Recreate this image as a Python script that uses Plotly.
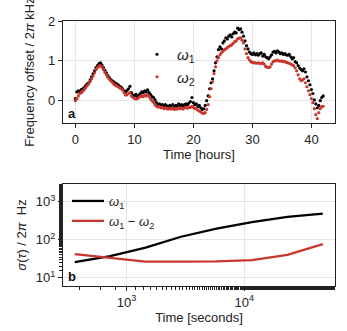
import plotly.graph_objects as go

# ---- Panel a: frequency offset vs time (hours) ----
hours = [i * 0.25 for i in range(169)]

omega1_khz = [
    0.05, 0.22, 0.25, 0.22, 0.28, 0.30, 0.33, 0.38, 0.42, 0.45, 0.52, 0.60, 0.68, 0.75, 0.83, 0.88,
    0.93, 0.95, 0.90, 0.83, 0.76, 0.70, 0.63, 0.58, 0.53, 0.50, 0.47, 0.44, 0.42, 0.40, 0.36, 0.34,
    0.30, 0.25, 0.22, 0.26, 0.30, 0.36, 0.20, 0.14, 0.12, 0.16, 0.10, 0.14, 0.18, 0.22, 0.20, 0.25,
    0.22, 0.27, 0.20, 0.15, 0.10, 0.08, 0.02, -0.05, -0.10, -0.08, -0.12, -0.10, -0.14, -0.10, -0.13, -0.15,
    -0.12, -0.14, -0.10, -0.16, -0.12, -0.14, -0.08, -0.12, -0.10, -0.14, -0.10, -0.08, -0.10, -0.06, -0.02, 0.08,
    -0.05, -0.10, -0.08, -0.15, -0.12, -0.18, -0.22, -0.20, -0.12, 0.00, 0.12, 0.30, 0.45, 0.55, 0.75, 0.95,
    1.10, 1.28, 1.35, 1.30, 1.45, 1.50, 1.58, 1.55, 1.62, 1.65, 1.60, 1.68, 1.72, 1.70, 1.82, 1.78,
    1.80, 1.72, 1.62, 1.50, 1.38, 1.30, 1.22, 1.18, 1.16, 1.20, 1.15, 1.18, 1.14, 1.18, 1.20, 1.12,
    1.16, 1.10, 1.08, 1.05, 1.10, 1.15, 1.22, 1.24, 1.20, 1.25, 1.22, 1.18, 1.20, 1.16, 1.18, 1.15,
    1.14, 1.16, 1.10, 1.05, 1.08, 0.98, 0.95, 0.88, 0.82, 0.78, 0.75, 0.80, 0.72, 0.60, 0.50, 0.40,
    0.28, 0.18, 0.02, -0.08, -0.18, -0.12, 0.00, 0.08, 0.12,
]

omega2_khz = [
    0.00, 0.05, 0.12, 0.18, 0.20, 0.24, 0.28, 0.33, 0.38, 0.42, 0.48, 0.55, 0.62, 0.70, 0.78, 0.83,
    0.87, 0.88, 0.84, 0.78, 0.71, 0.65, 0.59, 0.54, 0.50, 0.46, 0.42, 0.39, 0.37, 0.35, 0.32, 0.30,
    0.27, 0.20, 0.14, 0.15, 0.18, 0.20, 0.12, 0.08, 0.06, 0.04, 0.05, 0.08, 0.10, 0.12, 0.10, 0.14,
    0.12, 0.15, 0.10, 0.04, 0.00, -0.04, -0.10, -0.14, -0.16, -0.15, -0.18, -0.17, -0.20, -0.18, -0.20, -0.21,
    -0.19, -0.21, -0.18, -0.22, -0.20, -0.21, -0.18, -0.20, -0.19, -0.21, -0.18, -0.17, -0.19, -0.16, -0.17, -0.14,
    -0.17, -0.20, -0.19, -0.24, -0.26, -0.28, -0.31, -0.32, -0.30, -0.22, -0.10, 0.10, 0.30, 0.48, 0.68, 0.85,
    1.00, 1.08, 1.15, 1.20, 1.24, 1.28, 1.30, 1.33, 1.36, 1.38, 1.40, 1.44, 1.48, 1.50, 1.55, 1.57,
    1.58, 1.52, 1.45, 1.30, 1.18, 1.08, 1.02, 0.98, 0.96, 0.95, 0.95, 0.94, 0.95, 0.94, 0.93, 0.95,
    0.92, 0.86, 0.84, 0.83, 0.85, 0.92, 0.98, 1.00, 1.00, 1.02, 1.00, 0.99, 1.00, 0.98, 0.98, 0.96,
    0.95, 0.94, 0.92, 0.90, 0.88, 0.82, 0.75, 0.65, 0.55, 0.50, 0.52, 0.55, 0.45, 0.35, 0.25, 0.15,
    0.05, -0.05, -0.20, -0.35, -0.45, -0.30, -0.20, -0.15, -0.14,
]

# ---- Panel b: Allan deviation vs averaging time ----
tau_s = [363, 725, 1450, 2900, 5800, 11600, 23200, 46400]
sigma_omega1_hz = [25.5, 37, 62, 120, 195, 290, 400, 490]
sigma_diff_hz = [42, 34, 26.5, 26.5, 27, 29, 40, 77]

ytick_a = [0, 1, 2]
xtick_a = [0, 10, 20, 30, 40]
xtick_b = [1e3, 1e4]
xtick_b_text = ["10<sup>3</sup>", "10<sup>4</sup>"]
ytick_b = [10, 100, 1000]
ytick_b_text = ["10<sup>1</sup>", "10<sup>2</sup>", "10<sup>3</sup>"]

BLACK = "#000000"
RED = "#c8372d"
FONT = "Liberation Sans, Arial, sans-serif"
W, H = 347, 331

def px_x(p):
    return p / W

def px_y(p):
    return 1 - p / H

fig = go.Figure()

fig.add_trace(go.Scatter(
    x=hours, y=omega1_khz, mode="markers", name="<i>ω</i><sub>1</sub>",
    marker=dict(color=BLACK, size=3.2, line=dict(width=0)),
    xaxis="x", yaxis="y", legend="legend",
))
fig.add_trace(go.Scatter(
    x=hours, y=omega2_khz, mode="markers", name="<i>ω</i><sub>2</sub>",
    marker=dict(color=RED, size=3.2, line=dict(width=0)),
    xaxis="x", yaxis="y", legend="legend",
))
fig.add_trace(go.Scatter(
    x=tau_s, y=sigma_omega1_hz, mode="lines", name="<i>ω</i><sub>1</sub>",
    line=dict(color=BLACK, width=2.3),
    xaxis="x2", yaxis="y2", legend="legend2",
))
fig.add_trace(go.Scatter(
    x=tau_s, y=sigma_diff_hz, mode="lines", name="<i>ω</i><sub>1</sub> − <i>ω</i><sub>2</sub>",
    line=dict(color=RED, width=2.3),
    xaxis="x2", yaxis="y2", legend="legend2",
))

axis_common = dict(
    showline=True, linecolor="#222", linewidth=1.2, mirror=True,
    ticks="outside", ticklen=4, tickcolor="#222", tickwidth=1,
    showgrid=True, gridcolor="#e6e6e6", gridwidth=1, zeroline=False,
    tickfont=dict(size=13, color="#222", family=FONT),
    automargin=False,
)

xdom = [px_x(63), px_x(335)]

fig.update_layout(
    width=W, height=H,
    margin=dict(l=0, r=0, t=0, b=0, autoexpand=False),
    paper_bgcolor="white", plot_bgcolor="white",
    font=dict(family=FONT, color="#222", size=13),
    xaxis=dict(
        domain=xdom, anchor="y", range=[-2.1, 44.0],
        tickvals=xtick_a,
        title=dict(text="Time [hours]", font=dict(size=13), standoff=4),
        **axis_common,
    ),
    yaxis=dict(
        domain=[px_y(123), px_y(21)], anchor="x", range=[-0.56, 2.0],
        tickvals=ytick_a,
        title=dict(text="Frequency offset / 2<i>π</i> kHz", font=dict(size=13), standoff=10),
        **axis_common,
    ),
    xaxis2=dict(
        domain=xdom, anchor="y2", type="log", range=[2.46, 4.77],
        tickvals=xtick_b, ticktext=xtick_b_text,
        minor=dict(ticks="outside", ticklen=2.5, tickcolor="#222", tickwidth=0.8, showgrid=False),
        title=dict(text="Time [seconds]", font=dict(size=13), standoff=2),
        **axis_common,
    ),
    yaxis2=dict(
        domain=[px_y(286), px_y(184)], anchor="x2", type="log", range=[0.78, 3.47],
        tickvals=ytick_b, ticktext=ytick_b_text,
        minor=dict(ticks="outside", ticklen=2.5, tickcolor="#222", tickwidth=0.8, showgrid=False),
        title=dict(text="<i>σ</i>(<i>τ</i>) / 2<i>π</i>  Hz", font=dict(size=13), standoff=6),
        **axis_common,
    ),
    legend=dict(
        x=px_x(137), y=px_y(38), xanchor="left", yanchor="top",
        bgcolor="rgba(0,0,0,0)", font=dict(size=15, family=FONT),
        itemwidth=30, tracegroupgap=0,
    ),
    legend2=dict(
        x=px_x(67), y=px_y(186), xanchor="left", yanchor="top",
        bgcolor="rgba(0,0,0,0)", font=dict(size=13, family=FONT),
        itemwidth=32, tracegroupgap=0,
    ),
    showlegend=True,
    annotations=[
        dict(text="<b>a</b>", xref="x domain", yref="y domain", x=0.012, y=0.0,
             xanchor="left", yanchor="bottom", showarrow=False, font=dict(size=13, color="#111")),
        dict(text="<b>b</b>", xref="x2 domain", yref="y2 domain", x=0.012, y=0.0,
             xanchor="left", yanchor="bottom", showarrow=False, font=dict(size=13, color="#111")),
    ],
)

fig.write_html(
    "out.html",
    config={"displayModeBar": False},
    post_script="document.body.style.margin='0';document.body.style.padding='0';",
)
